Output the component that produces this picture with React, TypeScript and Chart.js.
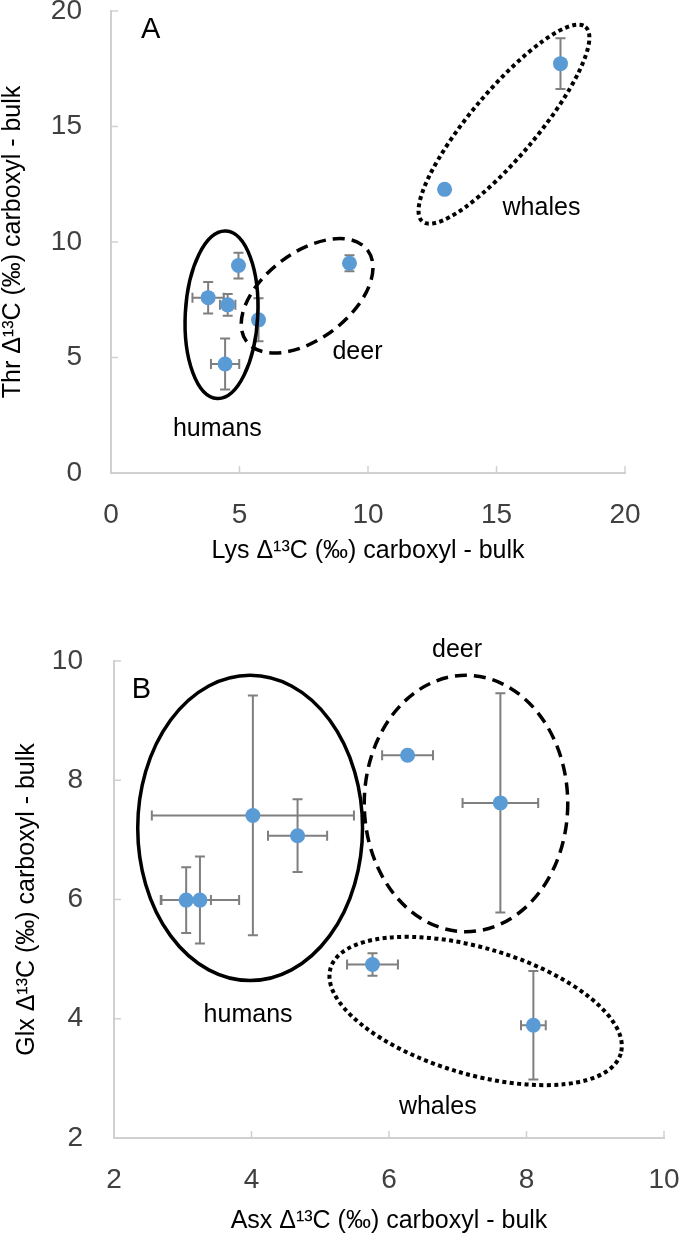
import React, { useEffect, useRef } from 'react';
import { Chart, registerables } from 'chart.js';

Chart.register(...registerables);

const FONT = "'Liberation Sans', Arial, Helvetica, sans-serif";
const BLUE = '#5B9BD5';
const AXIS = '#d0d0d0';
const TICK_TEXT = '#404040';
const ERR = '#7f7f7f';

// ---------- Panel A data (Lys vs Thr) ----------
const lysValues = [3.78, 4.54, 4.96, 5.74, 4.44, 9.28, 12.98, 17.49];
const thrValues = [7.59, 7.28, 8.98, 6.63, 4.72, 9.08, 12.28, 17.72];
const lysErrors = [0.61, 0.3, 0, 0, 0.55, 0, 0, 0];
const thrErrors = [0.68, 0.47, 0.56, 0.93, 1.1, 0.35, 0, 1.1];
const panelAXTickLabels = [0, 5, 10, 15, 20];
const panelAYTickLabels = [0, 5, 10, 15, 20];

// ---------- Panel B data (Asx vs Glx) ----------
const asxValues = [3.05, 3.25, 4.02, 4.67, 6.27, 7.62, 5.76, 8.1];
const glxValues = [5.99, 5.99, 7.41, 7.07, 8.42, 7.62, 4.91, 3.89];
const asxErrors = [0.36, 0.57, 1.47, 0.43, 0.37, 0.55, 0.37, 0.18];
const glxErrors = [0.55, 0.73, 2.01, 0.61, 0, 1.84, 0.19, 0.91];
const panelBXTickLabels = [2, 4, 6, 8, 10];
const panelBYTickLabels = [2, 4, 6, 8, 10];

type EllipseSpec = { cx: number; cy: number; rx: number; ry: number; rot: number; style: 'solid' | 'dash' | 'dot' };
type NoteSpec = { text: string; x: number; y: number; size: number };

// group outlines (centre in data units, radii in x-units / y-units, rotation in degrees)
const panelAEllipses: EllipseSpec[] = [
  { cx: 4.3, cy: 6.85, rx: 1.41, ry: 3.63, rot: 3, style: 'solid' },
  { cx: 7.63, cy: 7.67, rx: 2.95, ry: 1.87, rot: -37, style: 'dash' },
  { cx: 15.29, cy: 15.1, rx: 4.94, ry: 1.43, rot: -50, style: 'dot' },
];
const panelANotes: NoteSpec[] = [
  { text: 'A', x: 1.54, y: 19.16, size: 29 },
  { text: 'humans', x: 4.14, y: 1.88, size: 25 },
  { text: 'deer', x: 9.59, y: 5.22, size: 25 },
  { text: 'whales', x: 16.75, y: 11.47, size: 25 },
];

const panelBEllipses: EllipseSpec[] = [
  { cx: 3.98, cy: 7.2, rx: 1.635, ry: 2.56, rot: 0, style: 'solid' },
  { cx: 7.12, cy: 7.61, rx: 1.48, ry: 2.15, rot: 0, style: 'dash' },
  { cx: 7.26, cy: 4.13, rx: 2.2, ry: 1.06, rot: 16.4, style: 'dot' },
];
const panelBNotes: NoteSpec[] = [
  { text: 'B', x: 2.4, y: 9.51, size: 29 },
  { text: 'humans', x: 3.95, y: 4.06, size: 25 },
  { text: 'deer', x: 6.99, y: 10.18, size: 25 },
  { text: 'whales', x: 6.71, y: 2.52, size: 25 },
];

function makeOverlay(xErr: number[], yErr: number[], ellipses: EllipseSpec[], notes: NoteSpec[]) {
  return {
    id: 'overlay',
    beforeDatasetsDraw(chart: any) {
      const { ctx, chartArea } = chart;
      const xs = chart.scales.x;
      const ys = chart.scales.y;
      ctx.save();
      // inside tick marks
      ctx.strokeStyle = AXIS;
      ctx.lineWidth = 1.5;
      ctx.setLineDash([]);
      xs.ticks.forEach((t: any) => {
        const px = xs.getPixelForValue(t.value);
        ctx.beginPath();
        ctx.moveTo(px, chartArea.bottom);
        ctx.lineTo(px, chartArea.bottom - 7);
        ctx.stroke();
      });
      ys.ticks.forEach((t: any) => {
        const py = ys.getPixelForValue(t.value);
        ctx.beginPath();
        ctx.moveTo(chartArea.left, py);
        ctx.lineTo(chartArea.left + 7, py);
        ctx.stroke();
      });
      // error bars
      ctx.strokeStyle = ERR;
      ctx.lineWidth = 2;
      const cap = 5;
      chart.data.datasets.forEach((ds: any) => {
        ds.data.forEach((pt: any, i: number) => {
          const px = xs.getPixelForValue(pt.x);
          const py = ys.getPixelForValue(pt.y);
          const ex = xErr[i] || 0;
          const ey = yErr[i] || 0;
          if (ex > 0) {
            const l = xs.getPixelForValue(pt.x - ex);
            const r = xs.getPixelForValue(pt.x + ex);
            ctx.beginPath();
            ctx.moveTo(l, py); ctx.lineTo(r, py);
            ctx.moveTo(l, py - cap); ctx.lineTo(l, py + cap);
            ctx.moveTo(r, py - cap); ctx.lineTo(r, py + cap);
            ctx.stroke();
          }
          if (ey > 0) {
            const t = ys.getPixelForValue(pt.y + ey);
            const b = ys.getPixelForValue(pt.y - ey);
            ctx.beginPath();
            ctx.moveTo(px, t); ctx.lineTo(px, b);
            ctx.moveTo(px - cap, t); ctx.lineTo(px + cap, t);
            ctx.moveTo(px - cap, b); ctx.lineTo(px + cap, b);
            ctx.stroke();
          }
        });
      });
      ctx.restore();
    },
    afterDatasetsDraw(chart: any) {
      const { ctx } = chart;
      const xs = chart.scales.x;
      const ys = chart.scales.y;
      const xUnit = Math.abs(xs.getPixelForValue(1) - xs.getPixelForValue(0));
      const yUnit = Math.abs(ys.getPixelForValue(1) - ys.getPixelForValue(0));
      ctx.save();
      ellipses.forEach((e) => {
        ctx.save();
        ctx.translate(xs.getPixelForValue(e.cx), ys.getPixelForValue(e.cy));
        ctx.rotate((e.rot * Math.PI) / 180);
        ctx.beginPath();
        ctx.ellipse(0, 0, e.rx * xUnit, e.ry * yUnit, 0, 0, Math.PI * 2);
        ctx.strokeStyle = '#000';
        ctx.lineCap = 'butt';
        if (e.style === 'solid') {
          ctx.lineWidth = 3.5;
          ctx.setLineDash([]);
        } else if (e.style === 'dash') {
          ctx.lineWidth = 3.5;
          ctx.setLineDash([12, 7]);
        } else {
          ctx.lineWidth = 4;
          ctx.setLineDash([4, 3.4]);
        }
        ctx.stroke();
        ctx.restore();
      });
      ctx.fillStyle = '#000';
      ctx.textAlign = 'center';
      ctx.textBaseline = 'middle';
      notes.forEach((n) => {
        ctx.font = `${n.size}px ${FONT}`;
        ctx.fillText(n.text, xs.getPixelForValue(n.x), ys.getPixelForValue(n.y));
      });
      ctx.restore();
    },
  };
}

type PanelProps = {
  height: number;
  xVals: number[];
  yVals: number[];
  xErr: number[];
  yErr: number[];
  xMin: number; xMax: number; yMin: number; yMax: number;
  xLabels: number[]; yLabels: number[];
  xTitle: string; yTitle: string;
  ellipses: EllipseSpec[]; notes: NoteSpec[];
  padding: { top: number; right: number; bottom: number; left: number };
  yWidth: number; xHeight: number;
  yTickGap: number; xTickGap: number;
  xTitlePad: number; yTitlePad: number;
};

function Panel(p: PanelProps) {
  const ref = useRef<HTMLCanvasElement | null>(null);
  useEffect(() => {
    if (!ref.current) return;
    const chart = new Chart(ref.current, {
      type: 'scatter',
      data: {
        datasets: [
          {
            data: p.xVals.map((x, i) => ({ x, y: p.yVals[i] })),
            pointRadius: 7.5,
            pointHoverRadius: 7.5,
            backgroundColor: BLUE,
            borderWidth: 0,
          },
        ],
      },
      options: {
        responsive: false,
        animation: false,
        devicePixelRatio: 1,
        events: [],
        layout: { padding: p.padding },
        plugins: { legend: { display: false }, tooltip: { enabled: false } },
        scales: {
          x: {
            type: 'linear',
            min: p.xMin,
            max: p.xMax,
            afterFit: (s: any) => { s.height = p.xHeight; },
            grid: {
              display: true,
              drawOnChartArea: false,
              drawTicks: true,
              tickLength: p.xTickGap,
              tickColor: 'rgba(0,0,0,0)',
              color: 'rgba(0,0,0,0)',
            },
            border: { display: true, color: AXIS, width: 2 },
            ticks: {
              stepSize: 1,
              autoSkip: false,
              maxRotation: 0,
              padding: 0,
              color: TICK_TEXT,
              font: { family: FONT, size: 28, lineHeight: 1.2 },
              callback: (v: any) => (p.xLabels.includes(Number(v)) ? String(v) : null),
            },
            title: {
              display: true,
              text: p.xTitle,
              color: '#000',
              font: { family: FONT, size: 25, lineHeight: 1 },
              padding: { top: 0, bottom: p.xTitlePad },
            },
          },
          y: {
            type: 'linear',
            min: p.yMin,
            max: p.yMax,
            afterFit: (s: any) => { s.width = p.yWidth; },
            grid: {
              display: true,
              drawOnChartArea: false,
              drawTicks: true,
              tickLength: p.yTickGap,
              tickColor: 'rgba(0,0,0,0)',
              color: 'rgba(0,0,0,0)',
            },
            border: { display: true, color: AXIS, width: 2 },
            ticks: {
              stepSize: 1,
              autoSkip: false,
              padding: 0,
              color: TICK_TEXT,
              font: { family: FONT, size: 28, lineHeight: 0.7 },
              callback: (v: any) => (p.yLabels.includes(Number(v)) ? String(v) : null),
            },
            title: {
              display: true,
              text: p.yTitle,
              color: '#000',
              font: { family: FONT, size: 25, lineHeight: 1 },
              padding: { top: p.yTitlePad, bottom: 0 },
            },
          },
        },
      } as any,
      plugins: [makeOverlay(p.xErr, p.yErr, p.ellipses, p.notes)],
    });
    return () => chart.destroy();
  }, []);
  return (
    <canvas
      ref={ref}
      width={680}
      height={p.height}
      style={{ display: 'block', width: 680, height: p.height }}
    />
  );
}

export default function App() {
  return (
    <div style={{ position: 'absolute', left: 0, top: 0, width: 680, height: 1235, background: '#fff' }}>
      <Panel
        height={580}
        xVals={lysValues}
        yVals={thrValues}
        xErr={lysErrors}
        yErr={thrErrors}
        xMin={0} xMax={20} yMin={0} yMax={20}
        xLabels={panelAXTickLabels}
        yLabels={panelAYTickLabels}
        xTitle="Lys Δ¹³C (‰) carboxyl - bulk"
        yTitle="Thr Δ¹³C (‰) carboxyl - bulk"
        ellipses={panelAEllipses}
        notes={panelANotes}
        padding={{ top: 11, right: 55, bottom: 0, left: 0 }}
        yWidth={111}
        xHeight={107}
        yTickGap={29}
        xTickGap={25}
        xTitlePad={16}
        yTitlePad={0.5}
      />
      <Panel
        height={655}
        xVals={asxValues}
        yVals={glxValues}
        xErr={asxErrors}
        yErr={glxErrors}
        xMin={2} xMax={10} yMin={2} yMax={10}
        xLabels={panelBXTickLabels}
        yLabels={panelBYTickLabels}
        xTitle="Asx Δ¹³C (‰) carboxyl - bulk"
        yTitle="Glx Δ¹³C (‰) carboxyl - bulk"
        ellipses={panelBEllipses}
        notes={panelBNotes}
        padding={{ top: 81, right: 16, bottom: 0, left: 0 }}
        yWidth={114}
        xHeight={97}
        yTickGap={31}
        xTickGap={25}
        xTitlePad={1}
        yTitlePad={14.5}
      />
    </div>
  );
}
